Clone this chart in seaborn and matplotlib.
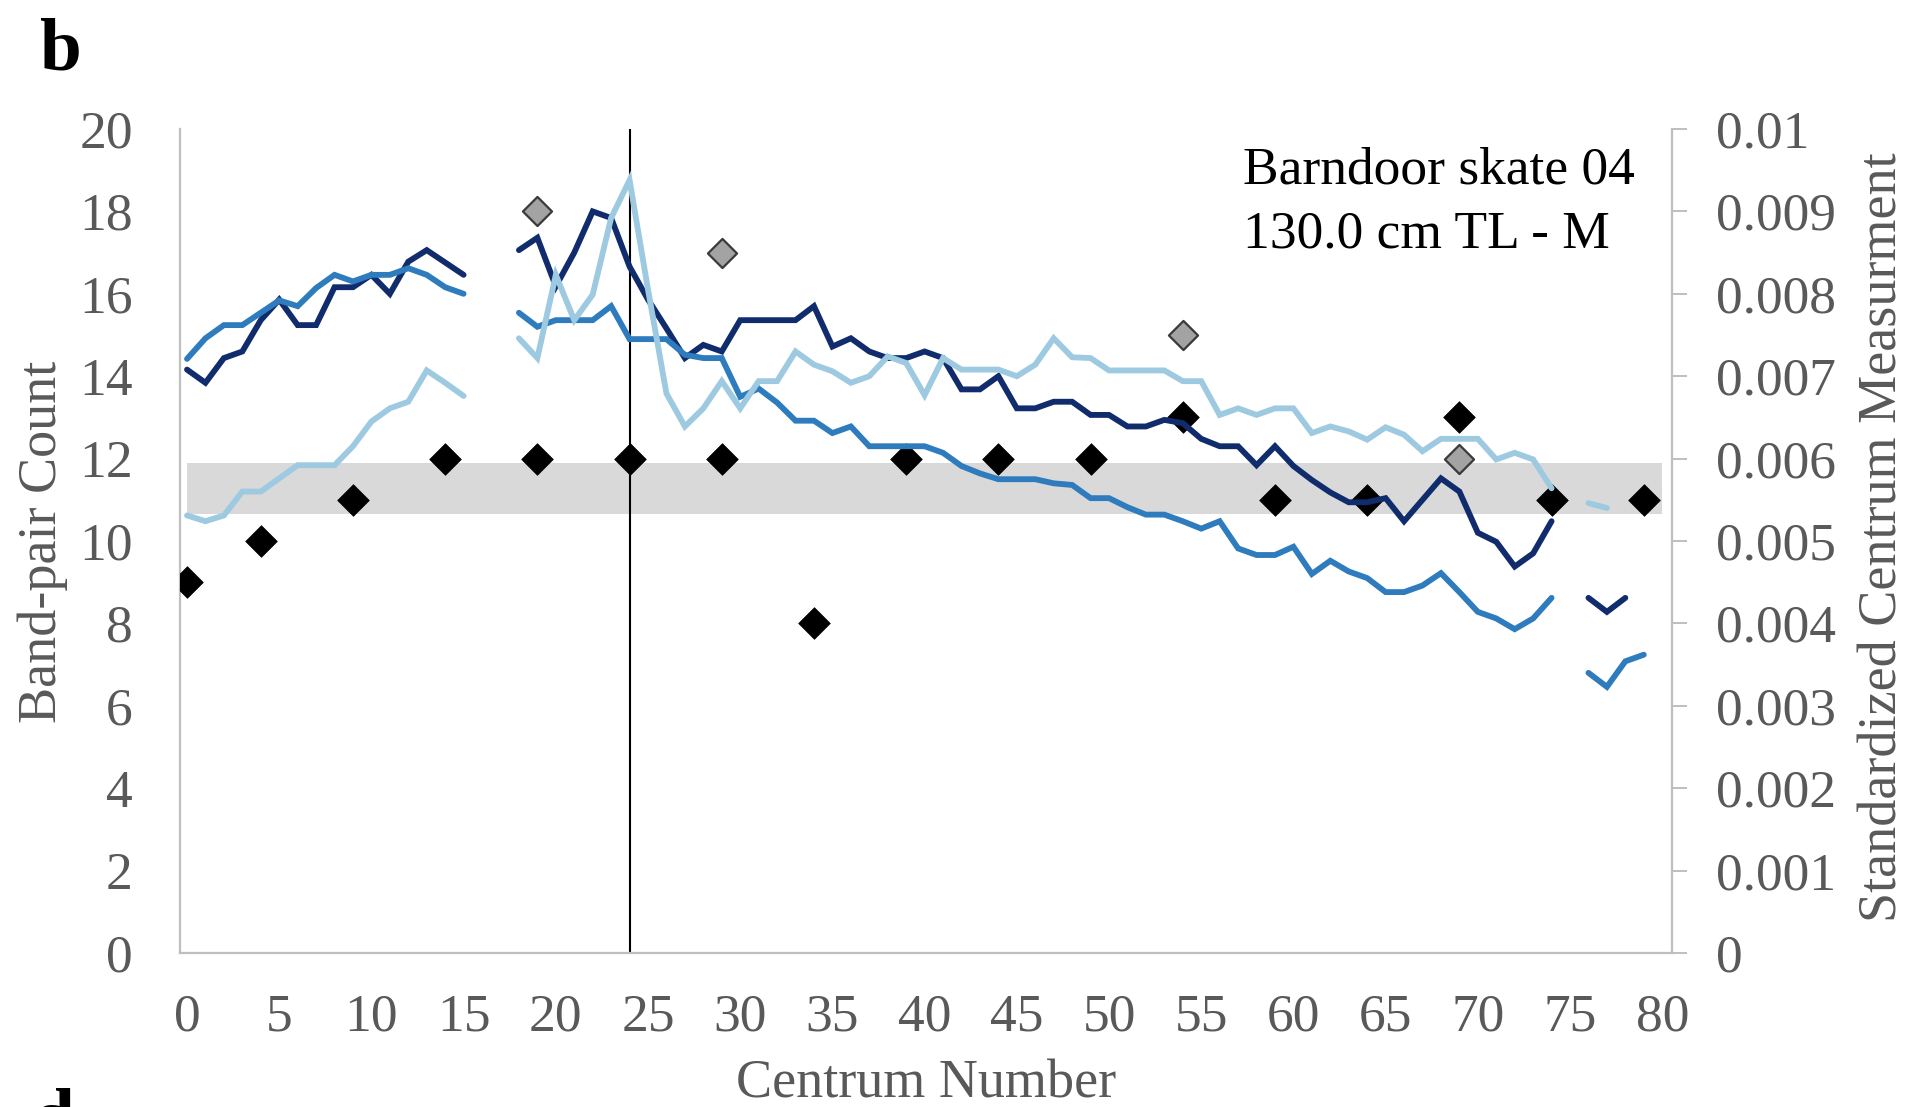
import numpy as np
import pandas as pd
import matplotlib
matplotlib.use("Agg")
import matplotlib.pyplot as plt
import seaborn as sns
from matplotlib.ticker import FixedLocator, FuncFormatter

nan = np.nan

# ---------------- data ----------------
centrum = list(range(0, 80))

# Standardized centrum measurement (right axis), three measurements
series_dark = [0.00708, 0.00692, 0.00722, 0.0073, 0.00768, 0.00793, 0.00762, 0.00762, 0.00808, 0.00808,
               0.00823, 0.0080, 0.00839, 0.00853, 0.00838, 0.00823, nan, nan, 0.00853, 0.00868,
               0.00809, 0.0085, 0.0090, 0.00892, 0.00833, 0.00793, 0.00758, 0.00722, 0.00738, 0.0073,
               0.00768, 0.00768, 0.00768, 0.00768, 0.00785, 0.00736, 0.00746, 0.0073, 0.00722, 0.00722,
               0.0073, 0.00722, 0.00684, 0.00684, 0.0070, 0.00661, 0.00661, 0.00669, 0.00669, 0.00653,
               0.00653, 0.00639, 0.00639, 0.00647, 0.00643, 0.00624, 0.00615, 0.00615, 0.00592, 0.00615,
               0.00591, 0.00574, 0.00559, 0.00547, 0.00547, 0.00552, 0.00524, 0.0055, 0.00576, 0.0056,
               0.0051, 0.00499, 0.00469, 0.00485, 0.00524, nan, 0.00431, 0.00414, 0.00431, nan]

series_mid = [0.00721, 0.00746, 0.00762, 0.00762, 0.00777, 0.00792, 0.00785, 0.00807, 0.00823, 0.00815,
              0.00823, 0.00823, 0.00831, 0.00823, 0.00808, 0.0080, nan, nan, 0.00777, 0.0076,
              0.00768, 0.00768, 0.00768, 0.00785, 0.00745, 0.00745, 0.00745, 0.00726, 0.00722, 0.00722,
              0.00675, 0.00685, 0.00668, 0.00646, 0.00646, 0.00631, 0.00639, 0.00615, 0.00615, 0.00615,
              0.00615, 0.00607, 0.00591, 0.00582, 0.00575, 0.00575, 0.00575, 0.0057, 0.00568, 0.00552,
              0.00552, 0.00541, 0.00532, 0.00532, 0.00524, 0.00515, 0.00524, 0.00491, 0.00483, 0.00483,
              0.00493, 0.0046, 0.00476, 0.00463, 0.00455, 0.00438, 0.00438, 0.00446, 0.00461, 0.00438,
              0.00414, 0.00406, 0.00393, 0.00406, 0.00431, nan, 0.0034, 0.00323, 0.00354, 0.00362]

series_light = [0.00531, 0.00524, 0.00531, 0.0056, 0.0056, 0.00576, 0.00592, 0.00592, 0.00592, 0.00615,
                0.00645, 0.00661, 0.00669, 0.00707, 0.00692, 0.00676, nan, nan, 0.00746, 0.00722,
                0.00823, 0.00768, 0.00799, 0.00892, 0.00938, 0.00805, 0.00679, 0.00639, 0.00661, 0.00694,
                0.00661, 0.00694, 0.00694, 0.0073, 0.00714, 0.00706, 0.00692, 0.0070, 0.00724, 0.00716,
                0.00677, 0.00722, 0.00708, 0.00708, 0.00708, 0.0070, 0.00714, 0.00746, 0.00723, 0.00722,
                0.00707, 0.00707, 0.00707, 0.00707, 0.00694, 0.00694, 0.00653, 0.00661, 0.00653, 0.00661,
                0.00661, 0.00631, 0.00639, 0.00633, 0.00623, 0.00638, 0.00629, 0.00609, 0.00624, 0.00624,
                0.00624, 0.00599, 0.00607, 0.00599, 0.00564, nan, 0.00546, 0.0054, nan, nan]

# Band-pair counts (left axis)
count_x = [0, 4, 9, 14, 19, 24, 29, 34, 39, 44, 49, 54, 59, 64, 69, 74, 79]
count_y = [9, 10, 11, 12, 12, 12, 12, 8, 12, 12, 12, 13, 11, 11, 13, 11, 11]
alt_count_x = [19, 29, 54, 69]
alt_count_y = [18, 17, 15, 12]

band_low, band_high = 10.65, 11.9
marker_centrum = 24

y_left_ticks = list(range(0, 21, 2))
y_right_ticks = [0, 0.001, 0.002, 0.003, 0.004, 0.005, 0.006, 0.007, 0.008, 0.009, 0.01]
x_ticks = list(range(0, 81, 5))

series_names = ["dark", "mid", "light"]
series_colors = {"dark": "#102c6c", "mid": "#2e7cbd", "light": "#9ecae1"}

# ---------------- build long table with gap segments ----------------
rows = []
for name, vals in zip(series_names, [series_dark, series_mid, series_light]):
    seg = 0
    prev_nan = True
    for x, v in zip(centrum, vals):
        if np.isnan(v):
            prev_nan = True
            continue
        if prev_nan:
            seg += 1
            prev_nan = False
        rows.append({"x": x, "v": v, "series": name, "seg": f"{name}_{seg}"})
lines_df = pd.DataFrame(rows)
counts_df = pd.DataFrame({"x": count_x, "y": count_y})
alt_df = pd.DataFrame({"x": alt_count_x, "y": alt_count_y})

# ---------------- style ----------------
sns.set_style("white")
plt.rcParams["font.family"] = ["Liberation Serif", "DejaVu Serif"]
tick_gray = "#595959"
spine_gray = "#bfbfbf"

fig = plt.figure(figsize=(19.3, 11.07), dpi=100)
ax1 = fig.add_axes([180 / 1930, 154 / 1107, 1492 / 1930, 824 / 1107])
ax2 = ax1.twinx()

# band & vertical marker
ax1.fill_between([0, 80], band_low, band_high, color="#d9d9d9", lw=0, zorder=1)
ax1.axvline(marker_centrum, color="black", lw=1.5, zorder=2)

# diamonds (left axis)
sns.scatterplot(data=counts_df, x="x", y="y", marker="D", s=260, color="black",
                edgecolor="black", linewidth=0.5, ax=ax1, zorder=3, legend=False)
sns.scatterplot(data=alt_df, x="x", y="y", marker="D", s=220, color="#a3a3a3",
                edgecolor="#3a3a3a", linewidth=1.6, ax=ax1, zorder=3, legend=False)

# lines (right axis)
sns.lineplot(data=lines_df, x="x", y="v", hue="series", units="seg", estimator=None,
             palette=series_colors, hue_order=series_names, ax=ax2,
             legend=False, sort=True)
for ln in ax2.get_lines():
    ln.set_linewidth(4.2)
    ln.set_solid_joinstyle("miter")

# ---------------- axes ----------------
xlo, xhi = -0.38, 80.53
ax1.set_xlim(xlo, xhi)
ax2.set_xlim(xlo, xhi)
ax1.set_ylim(0, 20)
ax2.set_ylim(0, 0.01)

ax1.xaxis.set_major_locator(FixedLocator(x_ticks))
ax1.yaxis.set_major_locator(FixedLocator(y_left_ticks))
ax2.yaxis.set_major_locator(FixedLocator(y_right_ticks))
ax2.yaxis.set_major_formatter(FuncFormatter(lambda v, p: "0" if v == 0 else f"{v:g}"))

for ax in (ax1, ax2):
    ax.set_xlabel("")
    ax.set_ylabel("")
    ax.grid(False)
    for s in ax.spines.values():
        s.set_visible(False)

ax1.spines["left"].set_visible(True)
ax1.spines["bottom"].set_visible(True)
ax2.spines["right"].set_visible(True)
for sp in (ax1.spines["left"], ax1.spines["bottom"], ax2.spines["right"]):
    sp.set_color(spine_gray)
    sp.set_linewidth(1.6)

ax1.tick_params(axis="y", length=0, pad=34, labelsize=38.5, labelcolor=tick_gray)
ax1.tick_params(axis="x", length=0, pad=29, labelsize=38.5, labelcolor=tick_gray)
ax2.tick_params(axis="y", direction="out", length=11, width=1.4, color=spine_gray,
                pad=21, labelsize=38.5, labelcolor=tick_gray)

# ---------------- texts ----------------
fig.text(43 / 1930, 1 - 542 / 1107, "Band-pair Count", rotation=90,
         ha="center", va="center", fontsize=39, color=tick_gray)
fig.text(1883 / 1930, 1 - 537 / 1107, "Standardized Centrum Measurment", rotation=90,
         ha="center", va="center", fontsize=39, color=tick_gray)
fig.text(926 / 1930, 1 - 1097 / 1107, "Centrum Number", ha="center", va="baseline",
         fontsize=39, color=tick_gray)
fig.text(1243 / 1930, 1 - 184 / 1107, "Barndoor skate 04", ha="left", va="baseline",
         fontsize=38.5, color="black")
fig.text(1243 / 1930, 1 - 248 / 1107, "130.0 cm TL - M", ha="left", va="baseline",
         fontsize=38.5, color="black")
fig.text(40 / 1930, 1 - 70 / 1107, "b", ha="left", va="baseline", fontsize=54,
         fontweight="bold", color="black")
fig.text(33 / 1930, 1 - 1140 / 1107, "d", ha="left", va="baseline", fontsize=54,
         fontweight="bold", color="black")

fig.savefig("out.png", dpi=100, facecolor="white")
